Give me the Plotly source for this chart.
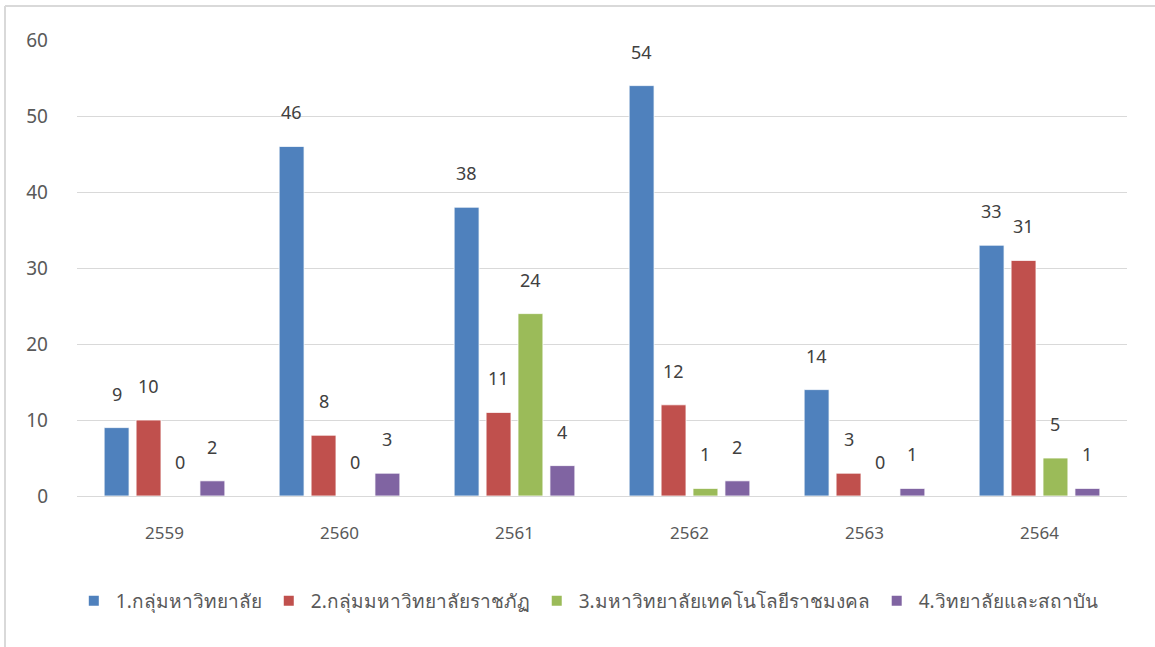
import plotly.graph_objects as go

years = ["2559", "2560", "2561", "2562", "2563", "2564"]
series_names = [
    "1.กลุ่มหาวิทยาลัย",
    "2.กลุ่มมหาวิทยาลัยราชภัฏ",
    "3.มหาวิทยาลัยเทคโนโลยีราชมงคล",
    "4.วิทยาลัยและสถาบัน",
]
group1 = [9, 46, 38, 54, 14, 33]
group2 = [10, 8, 11, 12, 3, 31]
group3 = [0, 0, 24, 1, 0, 5]
group4 = [2, 3, 4, 2, 1, 1]
y_ticks = [0, 10, 20, 30, 40, 50, 60]

series_values = [group1, group2, group3, group4]
colors = ["#4F81BD", "#C0504D", "#9BBB59", "#8064A2"]

FONT = "Tahoma, 'Noto Sans', 'DejaVu Sans', sans-serif"
TEXT = "#595959"

W, H = 1155, 647
ML, MR, MT, MB = 77, 28, 40, 151
plot_w = W - ML - MR
plot_h = H - MT - MB
BARGAP = 0.27

fig = go.Figure()
for name, vals, col in zip(series_names, series_values, colors):
    fig.add_trace(go.Bar(
        x=years, y=vals, name=name,
        marker=dict(color=col, line=dict(color="white", width=0.8)),
    ))

# value labels floating above each bar (x given as category index)
slot_px = plot_w / len(years) * (1 - BARGAP) / len(series_values)
for i, vals in enumerate(series_values):
    offset = (i - (len(series_values) - 1) / 2) * slot_px
    for j, v in enumerate(vals):
        fig.add_annotation(
            x=j, y=v, text=str(v), showarrow=False,
            xshift=offset, yshift=34, yanchor="middle",
            font=dict(family=FONT, size=18, color="#404040"),
        )

# outer chart frame (top and left edges)
fig.add_shape(type="line", xref="paper", yref="paper",
              x0=(5 - ML) / plot_w, x1=(W - ML) / plot_w,
              y0=(H - MB - 6) / plot_h, y1=(H - MB - 6) / plot_h,
              line=dict(color="#D9D9D9", width=2))
fig.add_shape(type="line", xref="paper", yref="paper",
              x0=(5 - ML) / plot_w, x1=(5 - ML) / plot_w,
              y0=(H - MB - 6) / plot_h, y1=(H - MB - H) / plot_h,
              line=dict(color="#D9D9D9", width=2))

fig.update_layout(
    width=W, height=H,
    margin=dict(l=ML, r=MR, t=MT, b=MB),
    paper_bgcolor="white", plot_bgcolor="white",
    barmode="group", bargap=BARGAP, bargroupgap=0.22,
    font=dict(family=FONT, color=TEXT, size=16),
    showlegend=True,
    legend=dict(
        orientation="h", x=0.486, xanchor="center", y=-0.23, yanchor="middle",
        font=dict(family=FONT, size=19, color=TEXT),
        itemsizing="constant", traceorder="normal", itemwidth=34,
    ),
    xaxis=dict(
        type="category", range=[-0.5, len(years) - 0.5],
        showgrid=False, showline=True, linecolor="#D9D9D9", linewidth=1,
        ticks="", tickfont=dict(family=FONT, size=17, color=TEXT),
        ticklabelstandoff=22,
    ),
    yaxis=dict(
        range=[0, 60], tickvals=y_ticks, showgrid=True, gridcolor="#D9D9D9",
        gridwidth=1, zeroline=False, showline=False, ticks="",
        tickfont=dict(family=FONT, size=19, color=TEXT),
        ticklabelstandoff=28,
    ),
)

fig.write_html("out.html")
